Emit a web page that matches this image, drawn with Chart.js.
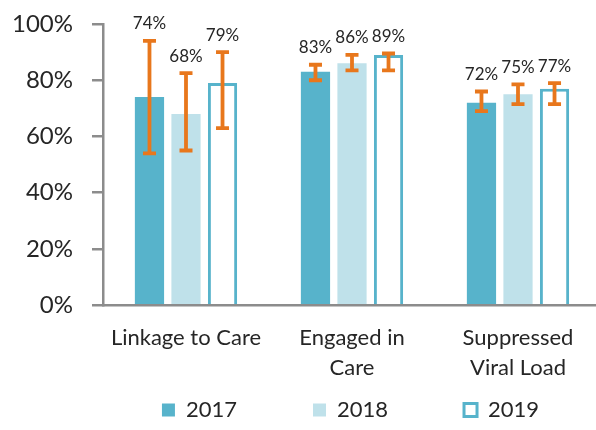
<!DOCTYPE html>
<html>
<head>
<meta charset="utf-8">
<script src="https://cdn.jsdelivr.net/npm/chart.js@4.4.1/dist/chart.umd.min.js"></script>
<style>
  html, body { margin: 0; padding: 0; background: #fff; overflow: hidden; }
  #wrap { width: 604px; height: 430px; position: relative; }
</style>
</head>
<body>
<div id="wrap"><canvas id="chart"></canvas></div>
<script>
// Data
const categories = ['Linkage to Care', ['Engaged in', 'Care'], ['Suppressed', 'Viral Load']];
const years = ['2017', '2018', '2019'];
const values2017 = [74, 83, 72];
const values2018 = [68, 86, 75];
const values2019 = [79, 89, 77];
const low2017 = [54, 80, 69];
const high2017 = [94, 85.5, 76];
const low2018 = [55, 83.5, 71.5];
const high2018 = [82.5, 89, 78.5];
const low2019 = [63, 83.5, 71.5];
const high2019 = [90, 89.5, 79];
const yTicks = [0, 20, 40, 60, 80, 100];

const FONT = 'Lato, Carlito, "Open Sans", sans-serif';
const TEXT = '#262626';
const AXIS = '#8c8c8c';
const ORANGE = '#e8771c';
const LEGEND_PAD = 76;

// error bars + value labels drawn from the scales
const errorBars = {
  id: 'errorBars',
  afterDatasetsDraw(chart) {
    const ctx = chart.ctx;
    const y = chart.scales.y;
    chart.data.datasets.forEach((ds, i) => {
      const meta = chart.getDatasetMeta(i);
      meta.data.forEach((bar, j) => {
        const yLo = y.getPixelForValue(ds.errLow[j]);
        const yHi = y.getPixelForValue(ds.errHigh[j]);
        ctx.save();
        ctx.strokeStyle = ORANGE;
        ctx.lineWidth = 3.8;
        ctx.beginPath();
        ctx.moveTo(bar.x, yLo);
        ctx.lineTo(bar.x, yHi);
        ctx.moveTo(bar.x - 6.5, yLo);
        ctx.lineTo(bar.x + 6.5, yLo);
        ctx.moveTo(bar.x - 6.5, yHi);
        ctx.lineTo(bar.x + 6.5, yHi);
        ctx.stroke();

        ctx.fillStyle = TEXT;
        ctx.font = '17px ' + FONT;
        ctx.textAlign = 'center';
        ctx.textBaseline = 'middle';
        ctx.fillText(ds.data[j] + '%', bar.x, yHi - 17);
        ctx.restore();
      });
    });
  }
};

// the wide item spacing also pads the legend vertically, so its height is
// capped and its top pulled up (legend draws clipped to its box);
// also nudge it right to sit under the plot
const legendShift = {
  id: 'legendShift',
  afterLayout(chart) {
    const lg = chart.legend;
    lg.left += 50;
    lg.right += 50;
    lg.top = chart.height - 31 - LEGEND_PAD;
  }
};

new Chart(document.getElementById('chart'), {
  type: 'bar',
  data: {
    labels: categories,
    datasets: [
      { label: years[0], data: values2017, errLow: low2017, errHigh: high2017,
        backgroundColor: '#57b3cb', borderWidth: 0 },
      { label: years[1], data: values2018, errLow: low2018, errHigh: high2018,
        backgroundColor: '#bfe1ea', borderWidth: 0 },
      { label: years[2], data: values2019, errLow: low2019, errHigh: high2019,
        backgroundColor: '#ffffff', borderColor: '#57b3cb', borderWidth: 3 }
    ]
  },
  plugins: [errorBars, legendShift],
  options: {
    responsive: true,
    maintainAspectRatio: false,
    animation: false,
    categoryPercentage: 0.66,
    barPercentage: 0.8,
    layout: { padding: { top: 24, left: 0, right: 3, bottom: 0 } },
    plugins: {
      tooltip: { enabled: false },
      legend: {
        position: 'bottom',
        maxHeight: 29,
        labels: {
          color: TEXT,
          font: { family: FONT, size: 22 },
          boxWidth: 13,
          boxHeight: 13,
          padding: LEGEND_PAD
        }
      }
    },
    scales: {
      x: {
        grid: { display: false, drawTicks: false },
        border: { color: AXIS, width: 2.5 },
        ticks: {
          color: TEXT,
          font: { family: FONT, size: 22, lineHeight: 1.36 },
          padding: 18,
          maxRotation: 0,
          autoSkip: false
        }
      },
      y: {
        min: 0,
        max: 100,
        afterBuildTicks(scale) {
          scale.ticks = yTicks.map(v => ({ value: v }));
        },
        afterFit(scale) {
          scale.width = 103;
          scale.paddingTop = 0;
          scale.paddingBottom = 0;
        },
        grid: { drawOnChartArea: false, color: AXIS, lineWidth: 2.5, tickLength: 11 },
        border: { color: AXIS, width: 2.5 },
        ticks: {
          color: TEXT,
          font: { family: FONT, size: 24 },
          padding: 19,
          callback: v => v + '%'
        }
      }
    }
  }
});
</script>
</body>
</html>
